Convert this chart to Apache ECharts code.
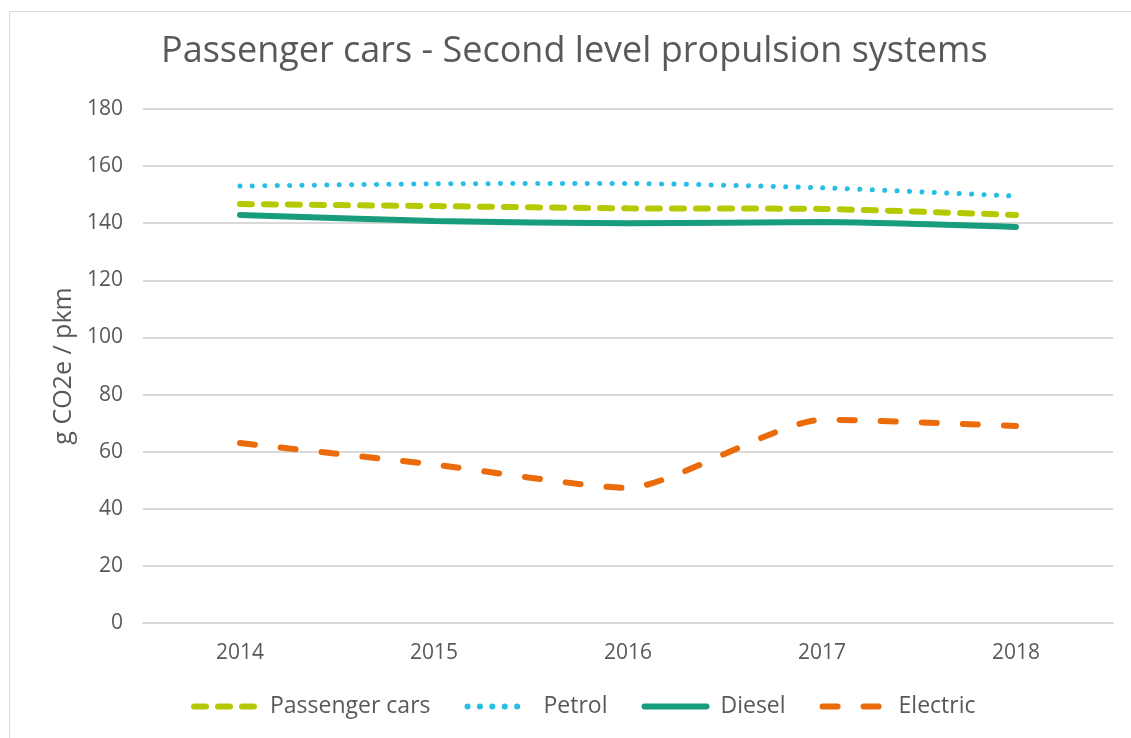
<!DOCTYPE html>
<html>
<head>
<meta charset="utf-8">
<script src="https://cdn.jsdelivr.net/npm/echarts@6/dist/echarts.min.js"></script>
<style>
  html, body { margin: 0; padding: 0; background: #fff; }
  #chart { width: 1131px; height: 738px; }
</style>
</head>
<body>
<div id="chart"></div>
<script>
// data
const years = ['2014', '2015', '2016', '2017', '2018']
const passengerCars = [146.7, 146.0, 145.2, 145.0, 142.9]
const petrol = [153.0, 153.8, 153.9, 152.4, 149.5]
const diesel = [142.9, 140.8, 140.0, 140.4, 138.7]
const electric = [63.0, 55.5, 47.3, 71.2, 69.0]

const font = '"Open Sans", "Noto Sans", sans-serif'
const grey = '#595959'

let echart = echarts.init(document.getElementById('chart'))
echart.setOption({
  textStyle: { fontFamily: font },
  graphic: [{
    type: 'rect',
    shape: { x: 9.5, y: 11.5, width: 1140, height: 740 },
    style: { fill: 'none', stroke: '#d9d9d9', lineWidth: 1 },
    silent: true
  }],
  title: {
    text: 'Passenger cars - Second level propulsion systems',
    left: 156,
    top: 29,
    textStyle: { fontFamily: font, fontSize: 36, fontWeight: 'normal', color: grey }
  },
  grid: { left: 143, right: 18, top: 109, bottom: 115 },
  legend: {
    bottom: 15,
    left: 186,
    itemWidth: 62,
    itemHeight: 14,
    itemGap: 34,
    itemStyle: { opacity: 0 },
    lineStyle: { width: 6, cap: 'round' },
    textStyle: { fontFamily: font, fontSize: 23, color: grey, padding: [0, 0, 0, 9] },
    data: ['Passenger cars', 'Petrol', 'Diesel', 'Electric']
  },
  xAxis: {
    type: 'category',
    data: years,
    axisLine: { lineStyle: { color: '#d9d9d9', width: 2 } },
    axisTick: { show: false },
    axisLabel: { fontFamily: font, fontSize: 21, color: grey, margin: 20 }
  },
  yAxis: {
    type: 'value',
    min: 0,
    max: 180,
    interval: 20,
    name: 'g CO2e / pkm',
    nameLocation: 'middle',
    nameGap: 66,
    nameTextStyle: { fontFamily: font, fontSize: 25, color: grey },
    axisLine: { show: false },
    axisTick: { show: false },
    axisLabel: { fontFamily: font, fontSize: 21, color: grey, margin: 20 },
    splitLine: { lineStyle: { color: '#d9d9d9', width: 2 } }
  },
  series: [
    {
      name: 'Passenger cars',
      type: 'line',
      smooth: 0.2,
      symbol: 'none',
      data: passengerCars,
      itemStyle: { color: '#b5c900' },
      lineStyle: { color: '#b5c900', width: 6, type: [12, 12], cap: 'round' }
    },
    {
      name: 'Petrol',
      type: 'line',
      smooth: 0.2,
      symbol: 'none',
      data: petrol,
      itemStyle: { color: '#27bde5' },
      lineStyle: { color: '#27bde5', width: 5, type: [0.1, 12.3], cap: 'round' }
    },
    {
      name: 'Diesel',
      type: 'line',
      smooth: 0.2,
      symbol: 'none',
      data: diesel,
      itemStyle: { color: '#179c7d' },
      lineStyle: { color: '#179c7d', width: 6, cap: 'round' }
    },
    {
      name: 'Electric',
      type: 'line',
      smooth: 0.2,
      symbol: 'none',
      data: electric,
      itemStyle: { color: '#eb6a0a' },
      lineStyle: { color: '#eb6a0a', width: 6, type: [15, 26], cap: 'round' }
    }
  ]
})
</script>
</body>
</html>
